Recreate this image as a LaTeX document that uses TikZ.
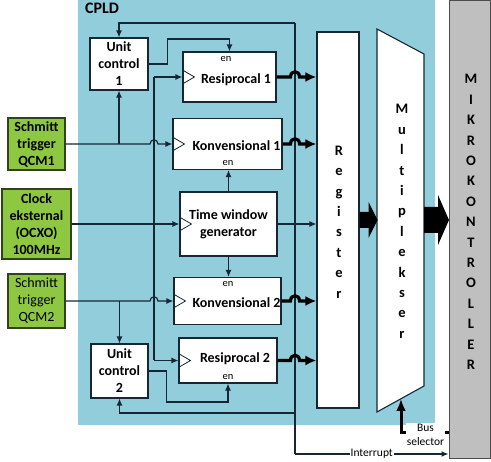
\documentclass[tikz,border=0pt]{standalone}
\usepackage{fontspec}
\setmainfont{Carlito}
\usetikzlibrary{arrows.meta}
\definecolor{cpld}{RGB}{146,205,220}
\definecolor{grn}{RGB}{142,199,66}
\definecolor{ln}{RGB}{22,38,52}
\definecolor{mkg}{RGB}{191,191,191}
\definecolor{gbd}{RGB}{48,66,30}
\begin{document}
\begin{tikzpicture}[x=1pt,y=-1pt,
  box/.style={draw=ln, line width=1.1pt, fill=white, inner sep=0pt, align=center,
    font=\fontsize{14}{17}\selectfont\bfseries},
  gbox/.style={draw=gbd, line width=1.1pt, fill=grn, inner sep=0pt, align=center,
    font=\fontsize{14}{17}\selectfont\bfseries},
  lbl/.style={inner sep=0pt, font=\fontsize{14}{17}\selectfont\bfseries},
  vlbl/.style={inner sep=0pt, align=center, font=\fontsize{14.5}{20.4}\selectfont\bfseries},
  sm/.style={inner sep=0pt, font=\fontsize{10.5}{12}\selectfont},
  smw/.style={inner sep=1pt, fill=white, align=center, font=\fontsize{11.5}{14}\selectfont},
  wire/.style={draw=ln, line width=1.2pt},
  arr/.style={wire, -{Latex[length=7pt,width=6pt]}},
  thk/.style={draw=black, line width=3.2pt, -{Latex[length=11pt,width=10pt]}},
  clk/.style={draw=ln, line width=0.8pt}
]
\useasboundingbox (0,0) rectangle (491,462);
% CPLD background
\fill[cpld] (78,0) rectangle (435,425);
\node[inner sep=0pt, font=\fontsize{16}{18}\selectfont\bfseries] (cpldl) at (102,8) {CPLD};

% Mikrokontroller
\node[draw=black!70, line width=1pt, fill=mkg, minimum width=41pt, minimum height=458pt, inner sep=0pt] (mk) at (469.5,230) {};
\node[vlbl] (mkt) at (471,222) {M\\I\\K\\R\\O\\K\\O\\N\\T\\R\\O\\L\\L\\E\\R};

% Green inputs
\node[gbox, minimum width=57pt, minimum height=52pt] (s1) at (36.5,144) {Schmitt\\trigger\\QCM1};
\node[gbox, minimum width=69pt, minimum height=70pt] (ck) at (36.5,224) {Clock\\eksternal\\(OCXO)\\100MHz};
\node[gbox, minimum width=57pt, minimum height=54pt, font=\fontsize{14}{17}\selectfont] (s2) at (36.5,301) {Schmitt\\trigger\\QCM2};

% Unit controls
\node[box, minimum width=58pt, minimum height=52pt] (uc1) at (119,64) {Unit\\control\\1};
\node[box, minimum width=57pt, minimum height=54pt] (uc2) at (119.5,371) {Unit\\control\\2};

% Counter blocks
\node[box, minimum width=93pt, minimum height=50pt] (res1) at (229.5,77) {};
\node[box, minimum width=109pt, minimum height=51pt] (konv1) at (227.5,144) {};
\node[box, minimum width=97pt, minimum height=64pt] (tw) at (228.5,224) {Time window\\generator};
\node[box, minimum width=107pt, minimum height=47pt] (konv2) at (227.5,301) {};
\node[box, minimum width=98pt, minimum height=45pt] (res2) at (228,360.5) {};

\node[lbl] (res1t) at (236,80) {Resiprocal 1};
\node[lbl] (konv1t) at (236.5,146) {Konvensional 1};
\node[lbl] (konv2t) at (236.5,303) {Konvensional 2};
\node[lbl] (res2t) at (235,359) {Resiprocal 2};
\node[sm] (en1) at (226,59) {en};
\node[sm] (en2) at (228,163) {en};
\node[sm] (en3) at (228,284) {en};
\node[sm] (en4) at (228,377) {en};

% clock symbols
\foreach \n in {res1,konv1,tw,konv2,res2}{
  \draw[clk] (\n.west) ++(0,-7) -- ++(12,7) -- ++(-12,7);
}

% Register
\node[box, minimum width=42pt, minimum height=376pt] (reg) at (338,220) {};
\node[vlbl] (regt) at (339,222) {R\\e\\g\\i\\s\\t\\e\\r};

% Multiplexer
\coordinate (mxa) at (377,29);
\coordinate (mxb) at (424,54);
\coordinate (mxc) at (424,386);
\coordinate (mxd) at (377,412);
\coordinate (mxs) at (401,399);
\draw[draw=ln, line width=1.1pt, fill=white] (mxa) -- (mxb) -- (mxc) -- (mxd) -- cycle;
\node[vlbl] (muxt) at (402,221.5) {M\\u\\l\\t\\i\\p\\l\\e\\k\\s\\e\\r};

% block arrows
\fill[black] (reg.east) ++(0,-8) -- ++(9,0) -- ++(0,-10) -- ++(9,18) -- ++(-9,18) -- ++(0,-10) -- ++(-9,0) -- cycle;
\fill[black] (424,220) ++(0,-13) -- ++(14,0) -- ++(0,-12) -- ++(11,25) -- ++(-11,25) -- ++(0,-12) -- ++(-14,0) -- cycle;

% Schmitt trigger lines with hops
\draw[arr] (s1.east) -- (150,144) .. controls (150,138.5) and (158,138.5) .. (158,144) -- (konv1.west);
\draw[arr] (uc1.south |- s1.east) -- (uc1.south);
\draw[arr] (s2.east) -- (150,301) .. controls (150,295.5) and (158,295.5) .. (158,301) -- (konv2.west);
\draw[arr] (uc2.north |- s2.east) -- (uc2.north);

% clock distribution
\coordinate (cbt) at (154,77);
\coordinate (cbb) at (154,360.5);
\draw[wire] (cbt) -- (cbb);
\draw[arr] (cbt) -- (res1.west);
\draw[arr] (cbb) -- (res2.west);
\draw[arr] (ck.east) -- (tw.west);

% unit control outputs (enable)
\draw[arr] (uc1.east) -- ++(19,0) |- (res1.north |- 0,39) -- (res1.north);
\draw[arr] (uc2.east) -- ++(18,0) |- (res2.south |- 0,402) -- (res2.south);

% time window enables and output
\draw[arr] (tw.north) -- (tw.north |- konv1.south);
\draw[arr] (tw.south) -- (tw.south |- konv2.north);
\draw[arr] (tw.east) -- (tw.east -| reg.west);

% interrupt bus
\coordinate (ibt) at (295,23);
\coordinate (ibm) at (295,413);
\coordinate (ibb) at (295,454);
\draw[wire] (ibt) -- (ibb);
\draw[arr] (ibt) -| (uc1.north);
\draw[arr] (ibm) -| (uc2.south);
\draw[arr] (ibb) -- (ibb -| mk.west) node[smw, midway] (intl) {Interrupt};

% counter outputs (thick, with hops)
\draw[thk] (res1.east) -- (290.5,77) .. controls (290.5,70) and (299.5,70) .. (299.5,77) -- (res1.east -| reg.west);
\draw[thk] (konv1.east) -- (290.5,144) .. controls (290.5,137) and (299.5,137) .. (299.5,144) -- (konv1.east -| reg.west);
\draw[thk] (konv2.east) -- (290.5,301) .. controls (290.5,294) and (299.5,294) .. (299.5,301) -- (konv2.east -| reg.west);
\draw[thk] (res2.east) -- (290.5,360.5) .. controls (290.5,353.5) and (299.5,353.5) .. (299.5,360.5) -- (res2.east -| reg.west);

% bus selector
\coordinate (bsc) at (401,433);
\draw[draw=black, line width=3pt, -{Latex[length=12pt,width=10pt]}] (mk.west |- bsc) -- (bsc) -- (mxs);
\node[smw] (bsl) at (425.5,435) {Bus\\selector};
\end{tikzpicture}
\end{document}
